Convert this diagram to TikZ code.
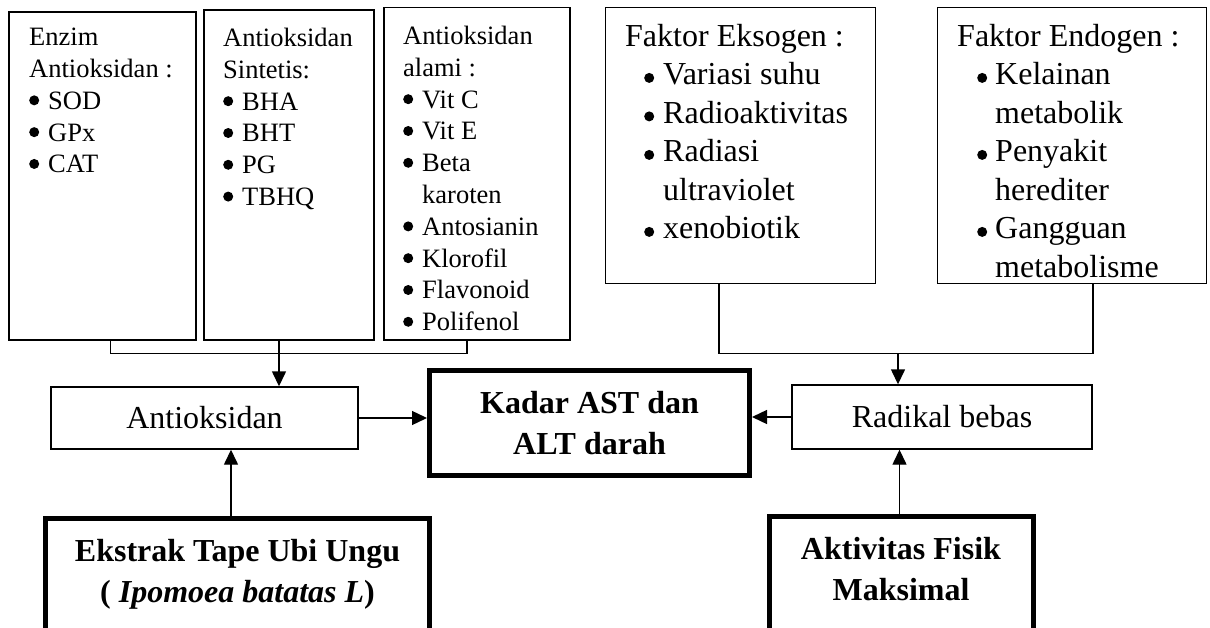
\documentclass[tikz,border=0pt]{standalone}
\usepackage{fontspec}
\setmainfont{Liberation Serif}
\usetikzlibrary{arrows.meta}
\newcommand{\dotL}{\tikz[baseline=0pt]{\fill (5pt,9pt) circle[radius=5pt];}}
\newcommand{\dotF}{\tikz[baseline=0pt]{\fill (5pt,7pt) circle[radius=5pt];}}
\newcommand{\mybul}{\makebox[19pt][l]{\dotL}}
\newcommand{\mybulF}{\hspace*{19pt}\makebox[19pt][l]{\dotF}}
\newcommand{\mybulG}{\hspace*{20pt}\makebox[18pt][l]{\dotF}}
\begin{document}
\begin{tikzpicture}[x=1pt,y=-1pt,
  thinbox/.style={draw, line width=1.4pt, inner sep=0pt, anchor=north west},
  thickbox/.style={draw, line width=5pt, inner sep=0pt},
  smalltxt/.style={anchor=north west, inner sep=0pt, align=left, font=\fontsize{26.5}{31.8}\selectfont},
  bigtxt/.style={anchor=north west, inner sep=0pt, align=left, font=\fontsize{32}{38.5}\selectfont},
  boldtxt/.style={align=center, inner sep=0pt, font=\fontsize{32}{41}\selectfont\bfseries},
  conn/.style={line width=1.4pt},
  arr/.style={line width=1.4pt, -{Triangle[length=15pt,width=14pt]}}]
\useasboundingbox (0,0) rectangle (1210,628);
\clip (0,0) rectangle (1210,628);
\fill[white] (0,0) rectangle (1210,628);

% top boxes
\node[thinbox, minimum width=187pt, minimum height=328pt] (b1) at (8.3,11.3) {};
\node[thinbox, minimum width=170pt, minimum height=330pt] (b2) at (203.3,9.3) {};
\node[thinbox, minimum width=186pt, minimum height=332.5pt] (b3) at (383.3,6.8) {};
\node[thinbox, minimum width=270pt, minimum height=276pt] (b4) at (604.8,6.8) {};
\node[thinbox, minimum width=269pt, minimum height=276pt] (b5) at (936.8,6.8) {};

\node[smalltxt] (t1) at (29,28) {Enzim\\Antioksidan :\\\mybul SOD\\\mybul GPx\\\mybul CAT};
\node[smalltxt] (t2) at (223,28) {Antioksidan\\Sintetis:\\\mybul BHA\\\mybul BHT\\\mybul PG\\\mybul TBHQ};
\node[smalltxt] (t3) at (403,26) {Antioksidan\\alami :\\\mybul Vit C\\\mybul Vit E\\\mybul Beta\\\hspace*{19pt}karoten\\\mybul Antosianin\\\mybul Klorofil\\\mybul Flavonoid\\\mybul Polifenol};
\node[bigtxt] (t4) at (625,24) {Faktor Eksogen :\\\mybulF Variasi suhu\\\mybulF Radioaktivitas\\\mybulF Radiasi\\\hspace*{38pt}ultraviolet\\\mybulF xenobiotik};
\node[bigtxt] (t5) at (957,24) {Faktor Endogen :\\\mybulG Kelainan\\\hspace*{38pt}metabolik\\\mybulG Penyakit\\\hspace*{38pt}herediter\\\mybulG Gangguan\\\hspace*{38pt}metabolisme};

% middle row
\node[thinbox, anchor=center, minimum width=307pt, minimum height=62pt, font=\fontsize{32}{38}\selectfont] (anti) at (204.5,418) {Antioksidan};
\node[thickbox, boldtxt, minimum width=320pt, minimum height=105pt] (kadar) at (589.5,423) {Kadar AST dan\\ALT darah};
\node[thinbox, anchor=center, minimum width=300pt, minimum height=64pt, font=\fontsize{32}{38}\selectfont] (rad) at (942,417) {Radikal bebas};

% bottom boxes
\node[thickbox, anchor=north west, minimum width=384pt, minimum height=140pt] (ekbox) at (43,516) {};
\node[boldtxt] (ektxt) at (237.5,574) {Ekstrak Tape Ubi Ungu\\( \textit{Ipomoea batatas L})};
\node[thickbox, anchor=north west, minimum width=264pt, minimum height=140pt] (akbox) at (767,514) {};
\node[boldtxt] (aktxt) at (901,569.5) {Aktivitas Fisik\\Maksimal};

% connectors left
\draw[conn] ([xshift=8pt]b1.south) -- ++(0,13) -| ([xshift=-10pt]b3.south);
\draw[arr] ([xshift=-10pt]b2.south) -- ([xshift=-10pt]b2.south |- anti.north);

% connectors right
\draw[conn] ([xshift=-21.5pt]b4.south) -- ++(0,69) -| ([xshift=21pt]b5.south);
\coordinate (j2) at ([xshift=-44pt]rad.north |- 0,353.5);
\draw[arr] (j2) -- ([xshift=-44pt]rad.north);

% horizontal arrows
\draw[arr] (anti.east) -- (anti.east -| kadar.west);
\draw[arr] (rad.west) -- (rad.west -| kadar.east);

% bottom arrows
\draw[arr] ([xshift=-6.5pt]ekbox.north) -- ([xshift=-6.5pt]ekbox.north |- anti.south);
\draw[arr] ([xshift=-2pt]akbox.north) -- ([xshift=-2pt]akbox.north |- rad.south);
\end{tikzpicture}
\end{document}
